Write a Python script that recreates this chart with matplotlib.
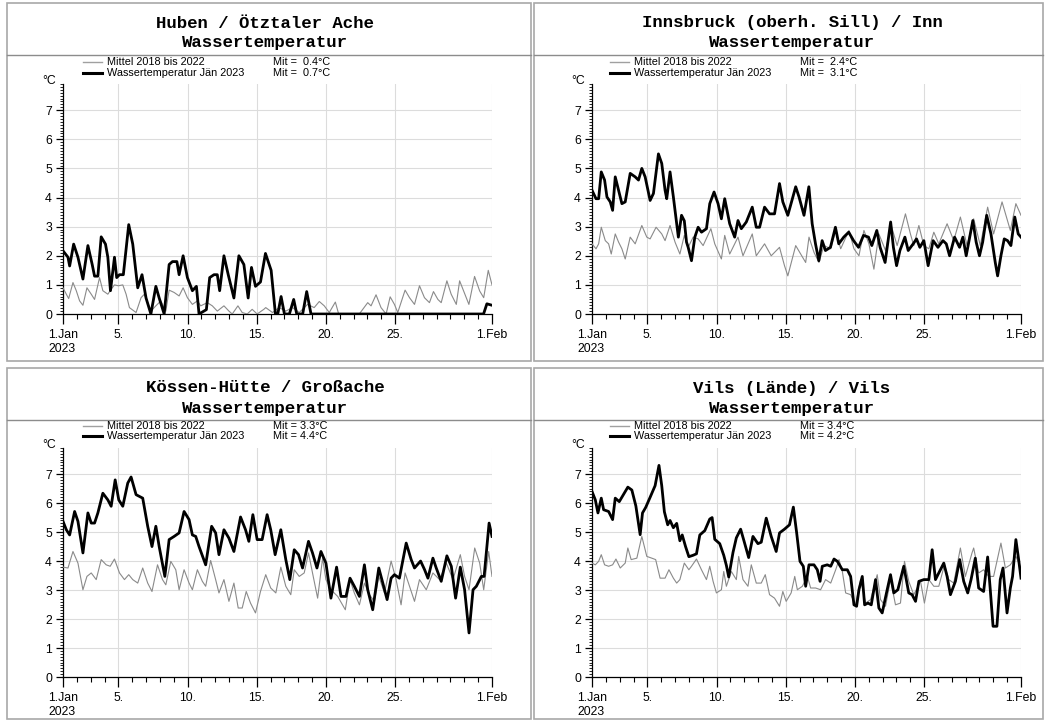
import numpy as np
import matplotlib.pyplot as plt
from matplotlib.lines import Line2D
from matplotlib.patches import Rectangle
from matplotlib.ticker import FixedLocator, MultipleLocator

W, H = 1046, 722

# days since 1 Jan 2023 00:00 and temperature in degC
# Huben / Oetztaler Ache
huben_t = [0, 0.36, 0.48, 0.77, 1.08, 1.44, 1.8, 2.11, 2.28, 2.52, 2.76, 3.07, 3.24, 3.43, 3.72, 3.88,
           4.08, 4.36, 4.75, 5.04, 5.4, 5.71, 6.0, 6.35, 6.71, 6.95, 7.31, 7.67, 7.91, 8.23, 8.39, 8.68,
           8.99, 9.35, 9.64, 9.83, 10.36, 10.6, 10.91, 11.15, 11.32, 11.63, 11.94, 12.35, 12.71, 13.07,
           13.38, 13.62, 13.91, 14.27, 14.63, 15.04, 15.35, 15.52, 15.76, 16.0, 16.36, 16.67, 16.89,
           17.32, 17.61, 17.92, 30.39, 30.63, 31.0]
huben_v = [2.17, 1.95, 1.65, 2.4, 1.95, 1.2, 2.35, 1.7, 1.3, 1.3, 2.65, 2.4, 1.95, 0.8, 1.95, 1.25,
           1.35, 1.35, 3.07, 2.4, 0.9, 1.35, 0.55, 0.0, 0.95, 0.55, 0.0, 1.7, 1.8, 1.8, 1.35, 2.0,
           1.25, 0.8, 0.95, 0.0, 0.15, 1.25, 1.35, 1.35, 0.8, 2.0, 1.35, 0.55, 2.0, 1.7,
           0.55, 1.6, 0.95, 1.1, 2.08, 1.5, 0.0, 0.0, 0.6, 0.0, 0.0, 0.5, 0.0,
           0.0, 0.77, 0.0, 0.0, 0.35, 0.3]
huben_mean_t = [0, 0.24, 0.41, 0.72, 0.96, 1.2, 1.44, 1.73, 2.04, 2.28, 2.64, 2.88, 3.24, 3.48, 3.72,
                4.0, 4.32, 4.56, 4.8, 5.28, 5.64, 5.88, 6.12, 6.35, 6.71, 7.07, 7.43, 7.67, 8.03, 8.39,
                8.68, 8.99, 9.35, 9.71, 9.95, 10.43, 10.79, 11.15, 11.63, 11.99, 12.23, 12.64, 12.95,
                13.31, 13.67, 14.03, 14.51, 14.65, 15.14, 15.62, 16.1, 16.59, 17.07, 17.67, 18.15,
                18.52, 18.88, 19.24, 19.68, 19.92, 21.41, 22.02, 22.26, 22.62, 22.98, 23.35, 23.64,
                23.95, 24.19, 24.72, 25.04, 25.4, 25.76, 26.12, 26.48, 26.77, 27.09, 27.33, 27.74,
                28.05, 28.42, 28.66, 28.95, 29.33, 29.74, 30.11, 30.4, 30.73, 31.0]
huben_mean_v = [0.9, 0.68, 0.53, 1.08, 0.8, 0.45, 0.3, 0.9, 0.68, 0.5, 1.25, 0.8, 0.68, 0.85, 1.0,
                0.97, 1.0, 0.68, 0.22, 0.05, 0.56, 0.68, 0.39, 0.1, 0.28, 0.45, 0.1, 0.82, 0.74, 0.62,
                0.9, 0.56, 0.33, 0.45, 0.28, 0.39, 0.28, 0.1, 0.28, 0.1, 0.0, 0.28, 0.05,
                0.0, 0.16, 0.0, 0.16, 0.22, 0.05, 0.22, 0.1, 0.22, 0.05, 0.33, 0.22,
                0.43, 0.28, 0.05, 0.41, 0.0, 0.0, 0.39, 0.28, 0.66, 0.22, 0.0, 0.59,
                0.33, 0.05, 0.82, 0.56, 0.33, 0.97, 0.56, 0.39, 0.77, 0.5, 0.39, 1.14,
                0.68, 0.33, 1.14, 0.79, 0.33, 1.29, 0.79, 0.56, 1.5, 1.0]

# Innsbruck (oberh. Sill) / Inn
inn_t = [0, 0.29, 0.48, 0.67, 0.91, 1.08, 1.32, 1.49, 1.68, 1.92, 2.16, 2.4, 2.76, 3.12, 3.36, 3.6,
         3.84, 4.2, 4.44, 4.8, 5.04, 5.28, 5.4, 5.64, 5.88, 6.24, 6.47, 6.67, 6.83, 6.95, 7.19, 7.43,
         7.67, 7.91, 8.27, 8.51, 8.82, 9.11, 9.35, 9.59, 9.95, 10.31, 10.55, 10.79, 11.15, 11.58,
         11.87, 12.11, 12.47, 12.83, 13.19, 13.55, 13.79, 14.15, 14.72, 14.96, 15.32, 15.67, 15.91,
         16.15, 16.39, 16.63, 16.87, 17.23, 17.59, 17.83, 18.19, 18.55, 18.9, 19.26, 19.62, 19.98,
         20.22, 20.58, 20.82, 21.18, 21.58, 21.78, 22.01, 22.25, 22.61, 22.85, 23.21, 23.45, 23.69,
         23.98, 24.29, 24.65, 25.0, 25.36, 25.6, 25.84, 26.2, 26.56, 26.8, 27.04, 27.52, 27.76,
         28.0, 28.23, 28.52, 28.83, 29.14, 29.31, 29.55, 29.79, 30.03, 30.27, 30.55, 30.8, 31.0]
inn_v = [4.25, 3.96, 3.96, 4.88, 4.6, 4.02, 3.85, 3.56, 4.71, 4.25, 3.79, 3.85, 4.83, 4.71, 4.6, 5.0,
         4.71, 3.9, 4.14, 5.5, 5.17, 4.25, 3.96, 4.88, 4.02, 2.64, 3.39, 3.2, 2.47, 2.29, 1.83, 2.64,
         2.98, 2.81, 2.93, 3.79, 4.19, 3.79, 3.27, 3.96, 3.1, 2.64, 3.21, 2.93, 3.16, 3.67,
         2.98, 2.98, 3.67, 3.44, 3.44, 4.48, 3.85, 3.39, 4.37, 4.02, 3.39, 4.37, 3.1,
         2.41, 1.83, 2.52, 2.18, 2.29, 2.98, 2.41, 2.64, 2.81, 2.52, 2.29, 2.7, 2.64,
         2.35, 2.87, 2.29, 1.77, 3.16, 2.29, 1.66, 2.18, 2.64, 2.18, 2.41, 2.58, 2.29,
         2.52, 1.66, 2.52, 2.29, 2.52, 2.41, 2.0, 2.64, 2.29, 2.64, 2.0, 3.21, 2.47,
         2.0, 2.47, 3.39, 2.75, 1.77, 1.31, 2.0, 2.58, 2.52, 2.35, 3.33, 2.75, 2.64]
inn_mean_t = [0, 0.29, 0.48, 0.67, 0.96, 1.2, 1.39, 1.68, 1.92, 2.16, 2.4, 2.76, 3.12, 3.6, 3.96,
              4.2, 4.63, 5.04, 5.28, 5.64, 6.0, 6.35, 6.67, 6.95, 7.31, 7.67, 8.03, 8.59, 8.87,
              9.35, 9.59, 9.95, 10.55, 10.91, 11.58, 11.87, 12.47, 12.95, 13.55, 13.91, 14.15,
              14.72, 15.08, 15.44, 15.68, 16.04, 16.4, 16.76, 17.25, 17.61, 17.97, 18.57, 18.93,
              19.29, 19.65, 20.01, 20.37, 20.73, 21.21, 21.62, 22.05, 22.65, 23.01, 23.25, 23.62,
              23.98, 24.34, 24.7, 25.06, 25.66, 26.14, 26.62, 27.1, 27.58, 28.06, 28.59, 29.02,
              29.63, 30.23, 30.63, 31.0]
inn_mean_v = [2.41, 2.24, 2.41, 2.98, 2.52, 2.41, 2.06, 2.75, 2.47, 2.24, 1.89, 2.64, 2.41, 3.04, 2.64,
              2.58, 2.98, 2.75, 2.52, 3.04, 2.47, 2.06, 2.7, 2.29, 2.64, 2.58, 2.35, 2.93, 2.41,
              1.89, 2.7, 2.06, 2.64, 2.0, 2.75, 2.0, 2.41, 2.0, 2.29, 1.66, 1.31,
              2.35, 2.06, 1.77, 2.64, 2.12, 1.77, 2.35, 2.24, 2.87, 2.24, 2.87, 2.24,
              2.0, 2.87, 2.41, 1.54, 2.75, 2.18, 3.04, 2.35, 3.44, 2.75, 2.35, 3.04,
              2.35, 2.24, 2.81, 2.41, 3.1, 2.52, 3.33, 2.35, 3.27, 2.35, 3.67, 2.75,
              3.85, 2.87, 3.79, 3.39]

# Koessen-Huette / Grossache
koe_t = [0, 0.24, 0.48, 0.84, 1.08, 1.44, 1.8, 2.04, 2.28, 2.52, 2.88, 3.24, 3.48, 3.77, 4.03, 4.32,
         4.68, 4.92, 5.28, 5.76, 6.12, 6.43, 6.71, 6.95, 7.36, 7.67, 8.03, 8.39, 8.75, 9.11, 9.35,
         9.59, 9.83, 10.31, 10.74, 11.03, 11.27, 11.63, 11.99, 12.35, 12.83, 13.19, 13.43, 13.72,
         14.03, 14.39, 14.75, 15.01, 15.33, 15.74, 16.1, 16.39, 16.71, 17.02, 17.31, 17.74, 18.03,
         18.35, 18.64, 19.0, 19.36, 19.77, 20.09, 20.45, 20.74, 21.05, 21.42, 21.78, 22.02, 22.38,
         22.82, 23.11, 23.42, 23.71, 23.95, 24.31, 24.8, 25.16, 25.4, 25.84, 26.13, 26.37, 26.73,
         26.97, 27.33, 27.74, 28.06, 28.37, 28.71, 29.02, 29.34, 29.63, 29.87, 30.23, 30.43,
         30.79, 31.0]
koe_v = [5.37, 5.08, 4.9, 5.71, 5.37, 4.28, 5.66, 5.31, 5.31, 5.66, 6.34, 6.11, 5.89, 6.8, 6.11, 5.89,
         6.69, 6.9, 6.29, 6.17, 5.2, 4.5, 5.2, 4.5, 3.47, 4.74, 4.85, 4.97, 5.71, 5.43, 4.9,
         4.85, 4.5, 3.87, 5.2, 4.97, 4.22, 5.08, 4.79, 4.33, 5.52, 5.08, 4.68, 5.6,
         4.74, 4.74, 5.6, 5.08, 4.22, 5.08, 4.05, 3.36, 4.39, 4.22, 3.76, 4.68, 4.28,
         3.76, 4.33, 3.93, 2.72, 3.79, 2.78, 2.78, 3.41, 3.13, 2.78, 3.87, 3.01, 2.32,
         3.76, 3.24, 2.67, 3.41, 3.53, 3.41, 4.62, 4.05, 3.76, 4.0, 3.7, 3.41, 4.1,
         3.76, 3.3, 4.18, 3.82, 2.72, 3.79, 3.01, 1.52, 3.01, 3.13, 3.47, 3.47,
         5.31, 4.85]
koe_mean_t = [0, 0.36, 0.72, 1.08, 1.44, 1.73, 2.04, 2.4, 2.76, 3.12, 3.41, 3.72, 4.08, 4.44, 4.75,
              5.04, 5.4, 5.76, 6.12, 6.43, 6.83, 7.19, 7.43, 7.79, 8.15, 8.39, 8.75, 9.11, 9.35,
              9.71, 10.07, 10.31, 10.67, 11.03, 11.27, 11.63, 11.99, 12.35, 12.66, 12.95, 13.24,
              13.55, 13.91, 14.27, 14.65, 15.01, 15.38, 15.74, 16.1, 16.46, 16.71, 17.07, 17.43,
              17.74, 18.03, 18.4, 18.76, 19.0, 19.36, 19.85, 20.4, 20.74, 21.05, 21.42, 21.78,
              22.14, 22.5, 22.82, 23.23, 23.71, 24.07, 24.43, 24.72, 25.04, 25.4, 25.76, 26.25,
              26.73, 27.21, 27.7, 28.18, 28.71, 29.02, 29.34, 29.75, 30.11, 30.4, 30.76, 31.0]
koe_mean_v = [3.79, 3.76, 4.33, 3.93, 3.01, 3.47, 3.59, 3.36, 4.05, 3.87, 3.82, 4.07, 3.59, 3.36, 3.53,
              3.36, 3.24, 3.76, 3.24, 2.95, 3.87, 3.36, 3.18, 3.99, 3.7, 3.01, 3.7, 3.24, 3.01,
              3.7, 3.3, 3.13, 4.02, 3.36, 2.9, 3.36, 2.61, 3.24, 2.38, 2.38, 2.95,
              2.55, 2.21, 2.95, 3.53, 3.07, 2.9, 3.79, 3.13, 2.84, 3.7, 3.47, 3.59,
              4.28, 3.59, 2.72, 4.1, 3.36, 3.01, 2.78, 2.32, 3.36, 2.9, 2.49, 3.24,
              2.84, 2.61, 3.47, 2.9, 4.0, 3.36, 2.49, 3.59, 3.13, 2.61, 3.36, 3.01,
              3.59, 3.36, 3.93, 3.36, 4.22, 3.47, 3.01, 4.45, 3.93, 3.01, 4.33, 3.47]

# Vils (Laende) / Vils
vils_t = [0, 0.24, 0.43, 0.67, 0.84, 1.2, 1.49, 1.68, 1.97, 2.28, 2.59, 2.88, 3.17, 3.48, 3.65, 3.88,
          4.2, 4.56, 4.84, 5.04, 5.23, 5.47, 5.64, 5.88, 6.12, 6.35, 6.52, 6.76, 7.0, 7.31, 7.55,
          7.79, 8.15, 8.51, 8.68, 8.87, 9.23, 9.52, 9.71, 9.88, 10.19, 10.43, 10.74, 10.98, 11.32,
          11.63, 11.99, 12.23, 12.59, 12.95, 13.31, 13.55, 13.91, 14.27, 14.55, 14.79, 15.03, 15.27,
          15.44, 15.68, 16.04, 16.28, 16.48, 16.64, 17.0, 17.25, 17.49, 17.73, 18.09, 18.45, 18.69,
          18.93, 19.12, 19.29, 19.53, 19.7, 19.94, 20.18, 20.49, 20.73, 20.97, 21.28, 21.57, 21.81,
          22.1, 22.53, 22.89, 23.13, 23.38, 23.62, 23.98, 24.34, 24.58, 24.82, 25.06, 25.42, 25.66,
          25.9, 26.26, 26.57, 26.86, 27.15, 27.39, 27.7, 27.94, 28.3, 28.59, 28.78, 28.98, 29.26,
          29.5, 29.7, 29.99, 30.23, 30.39, 30.63, 30.83, 31.0]
vils_v = [6.4, 6.11, 5.66, 6.17, 5.77, 5.71, 5.43, 6.17, 6.05, 6.3, 6.55, 6.45, 5.9, 4.91, 5.66, 5.85,
          6.2, 6.6, 7.3, 6.6, 5.7, 5.25, 5.4, 5.15, 5.3, 4.7, 4.9, 4.5, 4.15, 4.2, 4.25,
          4.9, 5.05, 5.45, 5.5, 4.75, 4.6, 4.2, 3.85, 3.45, 4.3, 4.8, 5.1, 4.7, 4.12,
          4.85, 4.6, 4.65, 5.48, 4.85, 4.33, 4.97, 5.1, 5.25, 5.86, 4.97, 3.99, 3.82,
          3.13, 3.87, 3.87, 3.7, 3.3, 3.82, 3.87, 3.82, 4.07, 3.99, 3.7, 3.7, 3.47,
          2.49, 2.44, 3.01, 3.47, 2.49, 2.55, 2.49, 3.36, 2.38, 2.21, 2.9, 3.53, 2.9,
          3.01, 3.82, 2.9, 2.84, 2.61, 3.3, 3.36, 3.36, 4.39, 3.36, 3.59, 3.93, 3.47,
          2.84, 3.3, 4.05, 3.3, 2.9, 3.36, 4.1, 3.07, 2.95, 4.14, 3.01, 1.75, 1.75,
          3.36, 3.76, 2.21, 3.07, 3.47, 4.74, 4.05, 3.41]
vils_mean_t = [0, 0.24, 0.48, 0.67, 0.91, 1.2, 1.49, 1.73, 2.04, 2.4, 2.59, 2.83, 3.24, 3.6, 3.96,
               4.32, 4.6, 4.92, 5.28, 5.56, 5.88, 6.12, 6.35, 6.67, 7.0, 7.19, 7.55, 7.91, 8.27,
               8.51, 8.75, 8.99, 9.35, 9.52, 9.71, 10.07, 10.43, 10.6, 10.91, 11.27, 11.51, 11.87,
               12.23, 12.52, 12.83, 13.19, 13.55, 13.79, 14.03, 14.39, 14.65, 14.84, 15.2, 15.56,
               15.8, 16.16, 16.52, 16.88, 17.25, 17.61, 17.85, 18.09, 18.33, 18.69, 19.05, 19.41,
               19.77, 20.13, 20.61, 20.85, 21.21, 21.57, 21.93, 22.29, 22.58, 22.89, 23.25, 23.74,
               24.02, 24.34, 24.7, 25.06, 25.47, 25.78, 26.14, 26.62, 26.98, 27.46, 27.58, 27.94,
               28.3, 28.66, 29.02, 29.55, 29.87, 30.23, 30.63, 31.0]
vils_mean_v = [3.93, 3.87, 3.99, 4.22, 3.87, 3.82, 3.87, 4.07, 3.76, 3.93, 4.45, 4.05, 4.1, 4.85, 4.16,
               4.1, 4.05, 3.41, 3.41, 3.7, 3.41, 3.24, 3.36, 3.93, 3.7, 3.82, 4.07, 3.7, 3.36,
               3.82, 3.3, 2.9, 3.01, 3.64, 3.13, 3.64, 3.36, 4.16, 3.36, 3.13, 3.87, 3.24,
               3.24, 3.53, 2.84, 2.72, 2.44, 2.95, 2.61, 2.9, 3.47, 3.01, 3.13, 3.47,
               3.07, 3.07, 3.01, 3.36, 3.24, 3.7, 4.05, 3.64, 2.9, 2.84, 2.49, 3.36,
               2.55, 2.67, 3.53, 2.67, 2.44, 3.36, 2.49, 2.55, 3.99, 3.3, 2.84, 3.3,
               2.55, 3.36, 3.13, 3.13, 3.87, 3.36, 3.24, 4.45, 3.47, 4.28, 4.45, 3.59,
               3.7, 3.47, 3.47, 4.62, 3.76, 3.87, 4.16, 3.76]

titles = ["Huben / Ötztaler Ache", "Innsbruck (oberh. Sill) / Inn",
          "Kössen-Hütte / Großache", "Vils (Lände) / Vils"]
mean_labels = ["Mit =  0.4°C", "Mit =  2.4°C", "Mit = 3.3°C", "Mit = 3.4°C"]
cur_labels = ["Mit =  0.7°C", "Mit =  3.1°C", "Mit = 4.4°C", "Mit = 4.2°C"]
tick_days = [0, 4, 9, 14, 19, 24, 31]
tick_labels = ["1.Jan\n2023", "5.", "10.", "15.", "20.", "25.", "1.Feb"]

plt.rcParams["font.family"] = ["Liberation Sans", "DejaVu Sans"]

fig = plt.figure(figsize=(W / 100, H / 100), dpi=100)


def fx(px):
    return px / W


def fy(py):
    return 1 - py / H


def panel(box, ax_px, leg_y, title, mean_lbl, cur_lbl, mt, mv, ct, cv):
    bx0, by0, bx1, by1 = box
    fig.patches.append(Rectangle((fx(bx0), fy(by1)), (bx1 - bx0) / W, (by1 - by0) / H,
                                 transform=fig.transFigure, fill=False,
                                 edgecolor="#a8a8a8", lw=1.2))
    fig.lines.append(Line2D([fx(bx0), fx(bx1)], [fy(by0 + 52), fy(by0 + 52)],
                            transform=fig.transFigure, color="#8c8c8c", lw=1.0))
    cx = bx0 + 258
    fig.text(fx(cx), fy(by0 + 20), title, ha="center", va="center",
             family="Liberation Mono", weight="bold", fontsize=12.5)
    fig.text(fx(cx), fy(by0 + 40), "Wassertemperatur", ha="center", va="center",
             family="Liberation Mono", weight="bold", fontsize=12.5)

    # legend above the plot area
    lx = bx0 + 76
    for yy, col, lw, lbl, mit in [(leg_y[0], "#a0a0a0", 1.0, "Mittel 2018 bis 2022", mean_lbl),
                                  (leg_y[1], "black", 2.2, "Wassertemperatur Jän 2023", cur_lbl)]:
        fig.lines.append(Line2D([fx(lx), fx(lx + 19)], [fy(yy), fy(yy)],
                                transform=fig.transFigure, color=col, lw=lw))
        fig.text(fx(lx + 24), fy(yy), lbl, ha="left", va="center", fontsize=7.8)
        fig.text(fx(bx0 + 266), fy(yy), mit, ha="left", va="center", fontsize=7.8)

    x0, x1, ytop, ybot = ax_px
    ax = fig.add_axes([fx(x0), fy(ybot), (x1 - x0) / W, (ybot - ytop) / H])
    ax.plot(mt, mv, color="#8a8a8a", lw=0.8, zorder=3)
    ax.plot(ct, cv, color="black", lw=2.0, zorder=4, solid_joinstyle="round")
    ax.set_xlim(0, 31)
    ax.set_ylim(0, 7.9)
    for s in ["top", "right"]:
        ax.spines[s].set_visible(False)
    ax.spines["left"].set_linewidth(0.9)
    ax.spines["bottom"].set_linewidth(0.9)
    ax.xaxis.set_major_locator(FixedLocator(tick_days))
    ax.set_xticklabels(tick_labels, fontsize=8.8, multialignment="left")
    ax.xaxis.set_minor_locator(MultipleLocator(1))
    ax.yaxis.set_major_locator(FixedLocator(range(0, 8)))
    ax.yaxis.set_minor_locator(MultipleLocator(0.1))
    ax.tick_params(axis="x", which="major", length=7, width=0.9, pad=4)
    ax.tick_params(axis="x", which="minor", length=3.5, width=0.8)
    ax.tick_params(axis="y", which="major", length=5, width=0.9, pad=3, labelsize=8.8)
    ax.tick_params(axis="y", which="minor", length=2.5, width=0.6)
    for d in tick_days[1:]:
        ax.axvline(d, color="#dcdcdc", lw=0.8, zorder=1)
    for k in range(1, 8):
        ax.axhline(k, color="#dcdcdc", lw=0.8, zorder=1)
    fig.text(fx(x0 - 7), fy(ytop - 3), "°C", ha="right", va="center", fontsize=8.8)


series = [(huben_mean_t, huben_mean_v, huben_t, huben_v),
          (inn_mean_t, inn_mean_v, inn_t, inn_v),
          (koe_mean_t, koe_mean_v, koe_t, koe_v),
          (vils_mean_t, vils_mean_v, vils_t, vils_v)]
boxes = [(7, 3, 531, 361), (534, 3, 1043, 361), (7, 368, 531, 719), (534, 368, 1043, 719)]
axes_px = [(63, 492, 84, 314), (592, 1021, 84, 314), (63, 492, 448, 677), (592, 1021, 448, 677)]
legend_y = [(62, 73), (62, 73), (426, 436), (426, 436)]

for i in range(4):
    mt, mv, ct, cv = series[i]
    panel(boxes[i], axes_px[i], legend_y[i], titles[i], mean_labels[i], cur_labels[i],
          mt, mv, ct, cv)

fig.savefig("out.png", dpi=100)
